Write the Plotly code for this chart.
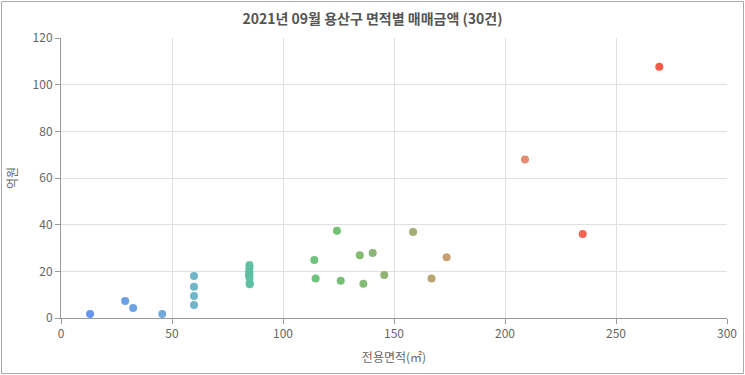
import plotly.graph_objects as go

area = [13.1, 28.9, 32.5, 45.6,
        59.9, 59.9, 59.9, 59.9,
        84.9, 84.9, 84.8, 84.9, 84.7, 84.9, 85.0, 85.0,
        124.3, 114.1, 114.7, 126.0, 134.6, 136.2, 140.4, 145.6,
        158.6, 166.9, 173.7,
        209.0, 235.0, 269.5]
price = [1.7, 7.3, 4.3, 1.7,
         18.0, 13.4, 9.4, 5.6,
         22.7, 21.5, 20.0, 19.0, 18.3, 17.3, 15.0, 14.5,
         37.4, 24.9, 16.9, 16.0, 26.9, 14.7, 27.9, 18.4,
         36.9, 16.9, 26.0,
         67.9, 36.0, 107.7]

title = "2021년 09월 용산구 면적별 매매금액 (30건)"
x_title = "전용면적(㎡)"
y_title = "억원"

colorscale = [
    [0.0, "#5b8ff0"],
    [0.12, "#6aa6dc"],
    [0.18, "#67b2c6"],
    [0.28, "#5cbfa0"],
    [0.43, "#6cbf6c"],
    [0.56, "#9ca86e"],
    [0.62, "#c29b6c"],
    [0.76, "#e3866a"],
    [0.86, "#f25e4b"],
    [1.0, "#f4503e"],
]

fig = go.Figure(go.Scatter(
    x=area, y=price, mode="markers",
    marker=dict(size=8, color=area, colorscale=colorscale, cmin=13, cmax=270,
                showscale=False, opacity=0.95),
    hovertemplate="%{x}㎡<br>%{y}억원<extra></extra>",
))

font = "Noto Sans CJK KR, Noto Sans, sans-serif"
L, R, T, B = 61, 18, 38, 57
PW, PH = 745 - L - R, 375 - T - B
fig.update_layout(
    width=745, height=375,
    margin=dict(l=L, r=R, t=T, b=B, autoexpand=False),
    paper_bgcolor="white", plot_bgcolor="white",
    showlegend=False,
    font=dict(family=font, size=12, color="#666"),
    title=dict(text="<b>" + title + "</b>", x=0.5, xanchor="center",
               y=0.95, yanchor="middle",
               font=dict(family=font, size=14, color="#555")),
    xaxis=dict(range=[0, 300], dtick=50, showgrid=True, gridcolor="#e0e0e0",
               zeroline=False, showline=True, linecolor="#999", linewidth=1,
               ticks="outside", ticklen=5, tickcolor="#999", automargin=False,
               title=dict(text=x_title, standoff=13, font=dict(size=12, color="#666"))),
    yaxis=dict(range=[0, 120], dtick=20, showgrid=True, gridcolor="#e0e0e0",
               zeroline=False, showline=True, linecolor="#999", linewidth=1,
               ticks="outside", ticklen=5, tickcolor="#999", automargin=False,
               title=dict(text=y_title, standoff=12, font=dict(size=12, color="#666"))),
    shapes=[dict(type="rect", xref="paper", yref="paper",
                 x0=(1.5 - L) / PW, x1=(743.5 - L) / PW,
                 y0=(T + PH - 373.5) / PH, y1=(T + PH - 1.5) / PH,
                 line=dict(color="#aaa", width=1), fillcolor="rgba(0,0,0,0)",
                 layer="below")],
)

fig.write_html("out.html")
